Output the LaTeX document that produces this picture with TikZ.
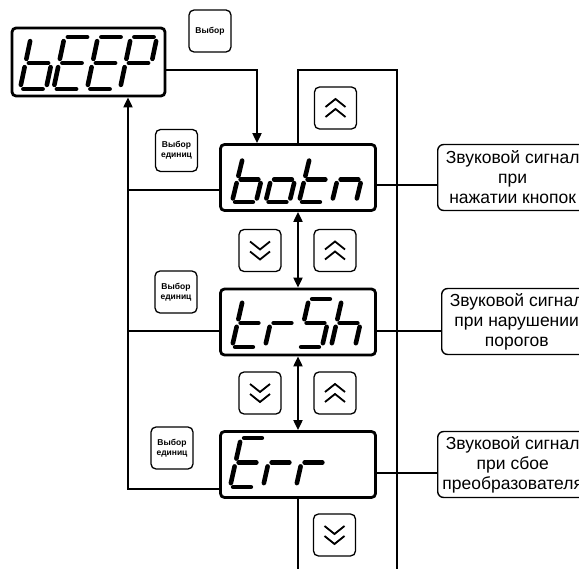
\documentclass[tikz,border=0pt]{standalone}
\usepackage{fontspec}
\setmainfont{Liberation Sans}
\usetikzlibrary{arrows.meta}
\newcommand\sgA{\draw[segline] (0.13,1) -- (0.87,1);}
\newcommand\sgB{\draw[segline] (1,0.92) -- (1,0.58);}
\newcommand\sgC{\draw[segline] (1,0.42) -- (1,0.08);}
\newcommand\sgD{\draw[segline] (0.13,0) -- (0.87,0);}
\newcommand\sgE{\draw[segline] (0,0.42) -- (0,0.08);}
\newcommand\sgF{\draw[segline] (0,0.92) -- (0,0.58);}
\newcommand\sgG{\draw[segline] (0.13,0.5) -- (0.87,0.5);}
\newcommand\ssd[5]{\begin{scope}[shift={(#1,#2)},x={(#3pt,0pt)},y={(11pt,#4pt)}]#5\end{scope}}
\newcommand\chevdn[1]{%
  \draw[chev] ([shift={(-10,-9)}]#1.center) -- ([shift={(0,-1)}]#1.center) -- ([shift={(10,-9)}]#1.center);
  \draw[chev] ([shift={(-10,1)}]#1.center) -- ([shift={(0,9)}]#1.center) -- ([shift={(10,1)}]#1.center);}
\newcommand\chevup[1]{%
  \draw[chev] ([shift={(-10,9)}]#1.center) -- ([shift={(0,1)}]#1.center) -- ([shift={(10,9)}]#1.center);
  \draw[chev] ([shift={(-10,-1)}]#1.center) -- ([shift={(0,-9)}]#1.center) -- ([shift={(10,-1)}]#1.center);}
\begin{document}
\begin{tikzpicture}[x=1pt,y=-1pt,
  disp/.style={draw, line width=2.8pt, rounded corners=4pt, minimum width=155pt, minimum height=66pt, inner sep=0pt},
  btn/.style={draw, line width=1.3pt, rounded corners=5pt, minimum width=42pt, minimum height=42pt, inner sep=0pt, font=\fontsize{8.5}{10}\selectfont\bfseries, align=center},
  note/.style={draw, line width=1.4pt, rounded corners=6pt, minimum width=150pt, minimum height=66pt, inner sep=0pt, font=\fontsize{17.5}{20}\selectfont, align=center, anchor=west},
  conn/.style={line width=2pt},
  tip/.tip={Triangle[length=10pt,width=9pt]},
  segline/.style={line width=4.6pt, line cap=round},
  chev/.style={line width=1.8pt}
]
\useasboundingbox (0,0) rectangle (579,569);
\clip (0,0) rectangle (579,569);

% displays
\node[disp, minimum width=153pt, minimum height=68pt] (beep) at (88.5,62) {};
\node[disp] (botn) at (298,177.5) {};
\node[disp] (trsh) at (298,322) {};
\node[disp] (err) at (298,464.5) {};

% seven-segment text
\ssd{20}{89}{26}{52}{\sgF\sgE\sgD\sgC\sgG}
\ssd{53.5}{89}{26}{52}{\sgA\sgF\sgG\sgE\sgD}
\ssd{87}{89}{26}{52}{\sgA\sgF\sgG\sgE\sgD}
\ssd{120}{89}{26}{52}{\sgA\sgB\sgF\sgG\sgE}

\ssd{232}{202}{24}{45}{\sgF\sgE\sgD\sgC\sgG}
\ssd{265.5}{202}{24}{45}{\sgG\sgC\sgD\sgE}
\ssd{299}{202}{24}{45}{\sgF\sgE\sgD\sgG}
\ssd{332}{202}{24}{45}{\sgG\sgE\sgC}

\ssd{232}{347}{24}{48}{\sgF\sgE\sgD\sgG}
\ssd{265}{347}{24}{48}{\sgE\sgG}
\ssd{298}{347}{24}{48}{\sgA\sgF\sgG\sgC\sgD}
\ssd{331}{347}{24}{48}{\sgF\sgE\sgG\sgC}

\ssd{230}{487}{24}{49}{\sgA\sgF\sgG\sgE\sgD}
\ssd{263}{487}{24}{49}{\sgE\sgG}
\ssd{296}{487}{24}{49}{\sgE\sgG}

% buttons
\node[btn] (sel) at (210,31) {Выбор};
\node[btn] (u1) at (176.5,150.5) {Выбор\\единиц};
\node[btn] (u2) at (176,292) {Выбор\\единиц};
\node[btn] (u3) at (172,448) {Выбор\\единиц};
\node[btn] (up0) at (335.5,108) {};
\node[btn] (dn1) at (260,250.5) {};
\node[btn] (up1) at (335,250.5) {};
\node[btn] (dn2) at (260,393) {};
\node[btn] (up2) at (335,393) {};
\node[btn] (dn3) at (334.5,535) {};
\chevup{up0}
\chevdn{dn1}
\chevup{up1}
\chevdn{dn2}
\chevup{up2}
\chevdn{dn3}

% callouts
\node[note] (n1) at (437,177.5) {Звуковой сигнал\\при\\нажатии кнопок};
\node[note] (n2) at (441,321.5) {Звуковой сигнал\\при нарушении\\порогов};
\node[note] (n3) at (437,464.5) {Звуковой сигнал\\при сбое\\преобразователя};

% connectors
\draw[conn,-tip] ([yshift=-8]beep.east) -| ([xshift=-41]botn.north);
\coordinate (lft) at ([xshift=39.5]beep.south);
\draw[conn,-tip] ([yshift=-24.5]err.west) coordinate (e1) -| (lft);
\draw[conn] ([yshift=-13]botn.west) coordinate (b1) -- (b1 -| lft);
\draw[conn] ([yshift=-9]trsh.west) coordinate (t1) -- (t1 -| lft);
\draw[conn,tip-tip] (botn.south) -- (trsh.north);
\draw[conn,tip-tip] (trsh.south) -- (err.north);
\coordinate (rtop) at (397,70);
\coordinate (rbot) at (397,580);
\coordinate (ebot) at (298,580);
\draw[conn] (botn.north) |- (rtop) -- (rbot);
\draw[conn] (err.south) -- (ebot);
\draw[conn] ([yshift=-8]botn.east) coordinate (r1) -- (r1 -| n1.west);
\draw[conn] ([yshift=-9]trsh.east) coordinate (r2) -- (r2 -| n2.west);
\draw[conn] ([yshift=-9]err.east) coordinate (r3) -- (r3 -| n3.west);
\end{tikzpicture}
\end{document}
